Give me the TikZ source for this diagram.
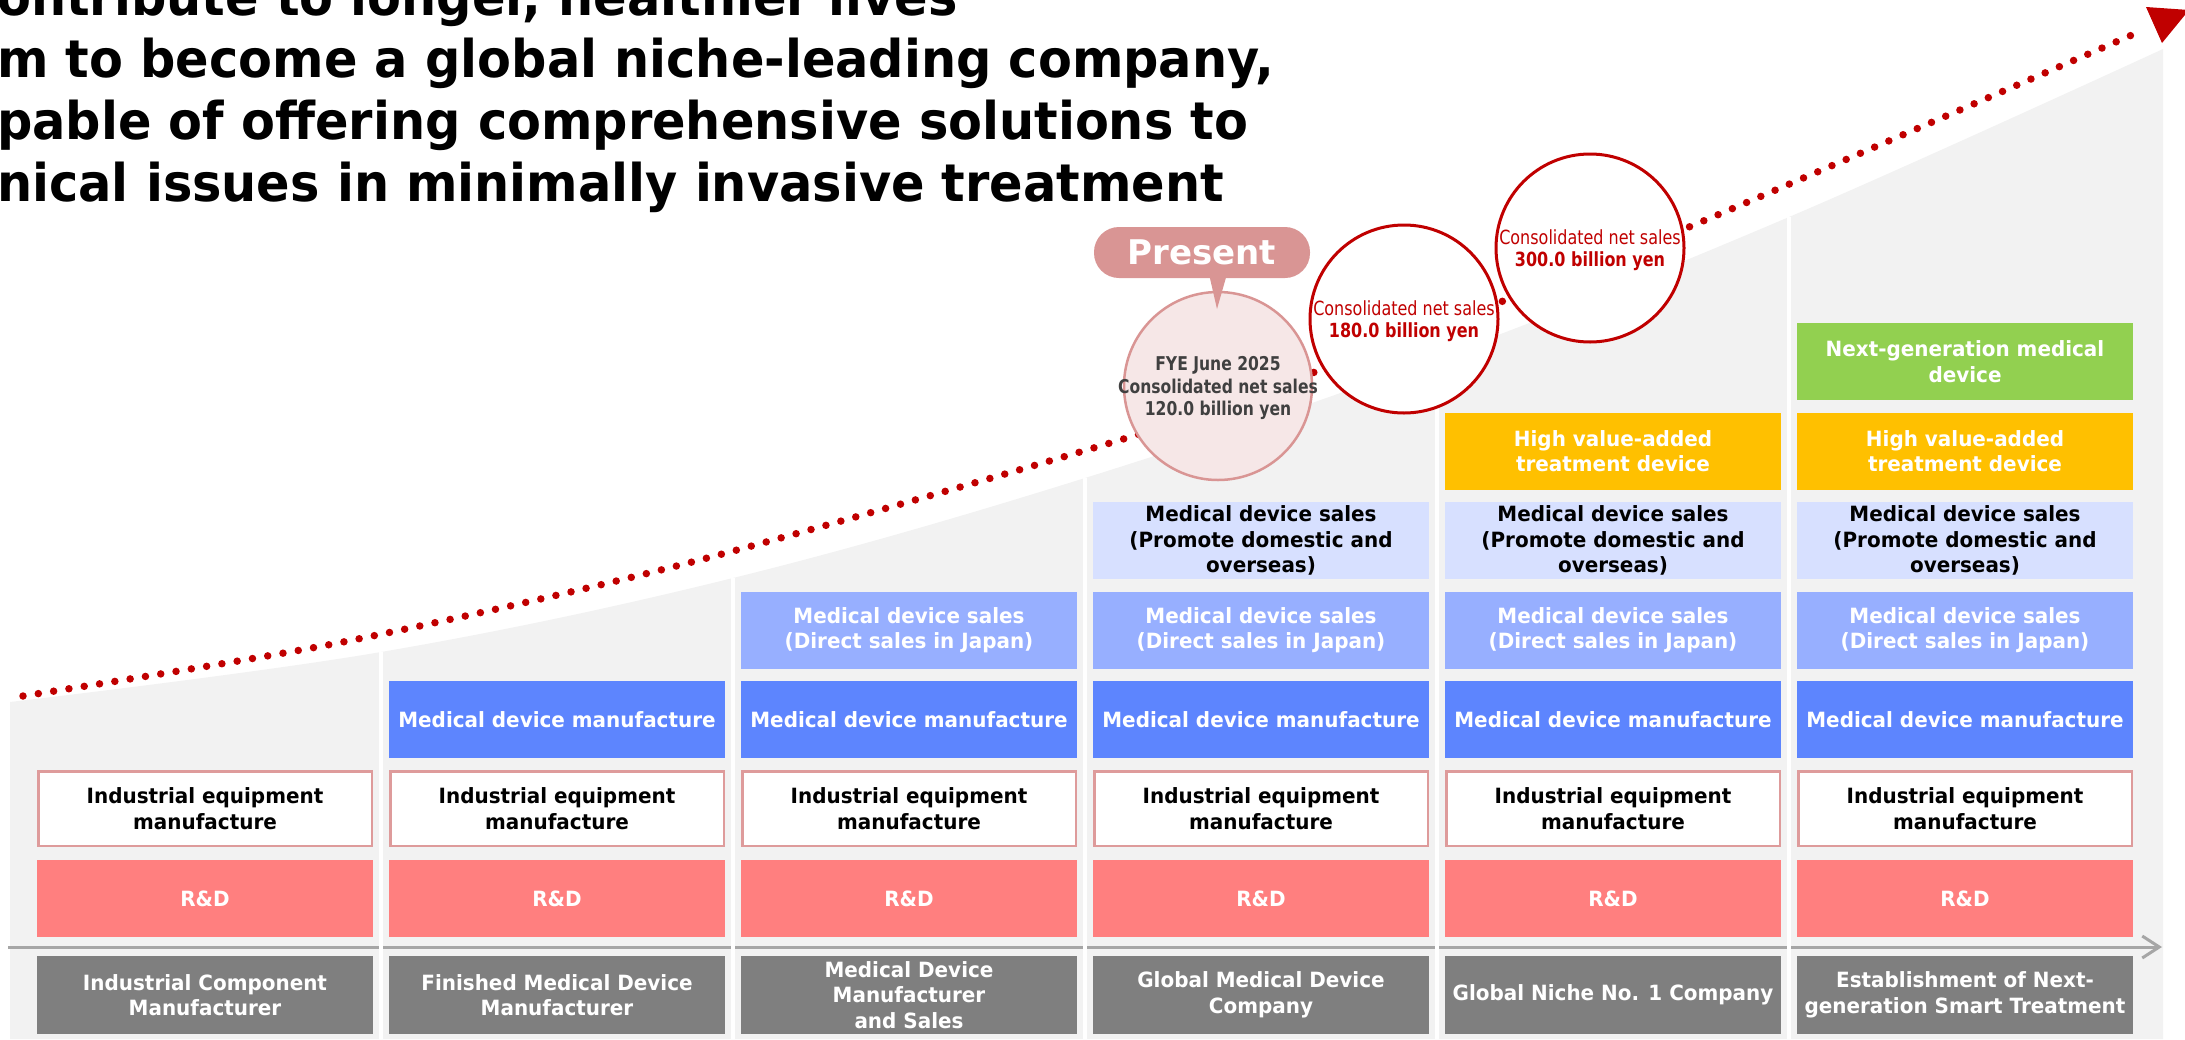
\documentclass[tikz,border=0pt]{standalone}
\usepackage{fontspec}
\setmainfont{DejaVu Sans}
\newfontfamily\bxf[FakeStretch=0.95]{DejaVu Sans}
\newfontfamily\cxf[FakeStretch=0.82]{DejaVu Sans}
\usetikzlibrary{arrows.meta}
\definecolor{bggray}{HTML}{F2F2F2}
\definecolor{rdcol}{HTML}{FF7F7F}
\definecolor{indbd}{HTML}{DE9B9B}
\definecolor{medcol}{HTML}{5D85FE}
\definecolor{dircol}{HTML}{97AFFF}
\definecolor{procol}{HTML}{D7E0FF}
\definecolor{highcol}{HTML}{FFC000}
\definecolor{nextcol}{HTML}{92D050}
\definecolor{botcol}{HTML}{7F7F7F}
\definecolor{axcol}{HTML}{A6A6A6}
\definecolor{dotred}{HTML}{C00000}
\definecolor{presfill}{HTML}{D99594}
\definecolor{pcircfill}{HTML}{F6E7E7}
\definecolor{circtxt}{HTML}{404040}
\begin{document}
\begin{tikzpicture}[x=1pt,y=-1pt,
  cell/.style={minimum width=336pt, minimum height=77pt, inner sep=0pt, align=center,
    font=\bxf\bfseries\fontsize{21}{25.5}\selectfont, text=white},
  rdbox/.style={cell, fill=rdcol},
  indbox/.style={cell, fill=white, draw=indbd, line width=2.5pt, text=black,
    minimum width=333.5pt, minimum height=74.5pt},
  medbox/.style={cell, fill=medcol},
  dirbox/.style={cell, fill=dircol},
  probox/.style={cell, fill=procol, text=black},
  highbox/.style={cell, fill=highcol},
  nextbox/.style={cell, fill=nextcol},
  botbox/.style={cell, fill=botcol, minimum height=78pt},
  axisline/.style={draw=axcol, line width=3pt, -{Straight Barb[length=17pt,width=22pt]}},
  sepline/.style={draw=white, line width=4.5pt},
  dotline/.style={draw=dotred, line width=7.5pt, line cap=round, dash pattern=on 0pt off 15.5pt},
  pcirc/.style={circle, minimum size=188pt, inner sep=0pt, fill=pcircfill, draw=presfill,
    line width=2.5pt},
  pctext/.style={inner sep=0pt, align=center, text=circtxt,
    font=\cxf\bfseries\fontsize{19}{22.5}\selectfont},
  rcirc/.style={circle, minimum size=188pt, inner sep=0pt, fill=white, draw=dotred,
    line width=3pt},
  rctext/.style={inner sep=0pt, align=center, text=dotred,
    font=\cxf\fontsize{19.5}{22}\selectfont},
  presbub/.style={rectangle, rounded corners=25pt, fill=presfill, minimum width=216pt,
    minimum height=51pt, inner sep=0pt, text=white,
    font=\bfseries\fontsize{34}{40}\selectfont},
  titletext/.style={anchor=base west, inner sep=0pt,
    font=\bxf\bfseries\fontsize{52}{60}\selectfont}
]
\useasboundingbox (0,0) rectangle (2185,1039);
\clip (0,0) rectangle (2185,1039);

% background growth area
\fill[bggray] (10,1039) -- plot[smooth, tension=0.6] coordinates {(10,702) (381,652) (733,578) (1085,478) (1437,358) (1789,217) (2163,49)} -- (2163,1039) -- cycle;

% time axis
\coordinate (axL) at (8,947);
\coordinate (axR) at (2162,947);
\draw[axisline] (axL) -- (axR);

% column separators
\foreach \x/\t in {381/652,733/578,1085/478,1437/358,1789/217}
  \draw[sepline] (\x,\t) -- (\x,1039);

% boxes
\foreach \i in {1,...,6} {
  \pgfmathsetmacro\colx{205+352*(\i-1)}
  \node[rdbox] (rd\i) at (\colx,898.5) {R\&D};
  \node[indbox] (ind\i) at (\colx,808.5) {Industrial equipment\\manufacture};
}
\foreach \i in {2,...,6} {
  \pgfmathsetmacro\colx{205+352*(\i-1)}
  \node[medbox] (med\i) at (\colx,719.5) {Medical device manufacture};
}
\foreach \i in {3,...,6} {
  \pgfmathsetmacro\colx{205+352*(\i-1)}
  \node[dirbox] (dir\i) at (\colx,630) {Medical device sales\\(Direct sales in Japan)};
}
\foreach \i in {4,...,6} {
  \pgfmathsetmacro\colx{205+352*(\i-1)}
  \node[probox] (pro\i) at (\colx,540.5) {Medical device sales\\(Promote domestic and\\overseas)};
}
\foreach \i in {5,6} {
  \pgfmathsetmacro\colx{205+352*(\i-1)}
  \node[highbox] (high\i) at (\colx,451) {High value-added\\treatment device};
}
\node[nextbox] (next6) at (1965,361.5) {Next-generation medical\\device};

\node[botbox] (bot1) at (205,995) {Industrial Component\\Manufacturer};
\node[botbox] (bot2) at (557,995) {Finished Medical Device\\Manufacturer};
\node[botbox] (bot3) at (909,995) {Medical Device\\Manufacturer\\and Sales};
\node[botbox] (bot4) at (1261,995) {Global Medical Device\\Company};
\node[botbox] (bot5) at (1613,995) {Global Niche No. 1 Company};
\node[botbox] (bot6) at (1965,995) {Establishment of Next-\\generation Smart Treatment};

% dotted growth trend
\coordinate (d0) at (23,696);
\coordinate (d1) at (343,642);
\coordinate (d2) at (692,562);
\coordinate (d3) at (1130,437);
\coordinate (d4) at (1315,372);
\coordinate (d5) at (1498,303);
\coordinate (d6) at (1708,219);
\coordinate (d7) at (2141,31);
\draw[dotline] plot[smooth] coordinates {(d0) (d1) (d2) (d3) (d4) (d5) (d6) (d7)};
\coordinate (ahA) at (2146,7);
\coordinate (ahT) at (2189,10);
\coordinate (ahB) at (2162,43);
\fill[dotred] (ahA) -- (ahT) -- (ahB) -- cycle;

% sales circles
\node[pcirc] (now) at (1218,386) {};
\node[pctext] (nowtxt) at (1218,388) {FYE June 2025\\Consolidated net sales\\120.0 billion yen};
\node[rcirc] (c180) at (1404,319) {};
\node[rctext] (c180txt) at (1404,321) {Consolidated net sales\\\textbf{180.0 billion yen}};
\node[rcirc] (c300) at (1590,248) {};
\node[rctext] (c300txt) at (1590,250) {Consolidated net sales\\\textbf{300.0 billion yen}};

% present callout
\node[presbub] (pres) at (1202,252.5) {Present};
\coordinate (pA) at (1209,274);
\coordinate (pT) at (1217,309);
\coordinate (pB) at (1227,274);
\fill[presfill] (pA) -- (pT) -- (pB) -- cycle;

% title
\node[titletext] (t1) at (-3,15) {ontribute to longer, healthier lives};
\node[titletext] (t2) at (-3,77) {m to become a global niche-leading company,};
\node[titletext] (t3) at (-3,139) {pable of offering comprehensive solutions to};
\node[titletext] (t4) at (-3,201) {nical issues in minimally invasive treatment};
\end{tikzpicture}
\end{document}
